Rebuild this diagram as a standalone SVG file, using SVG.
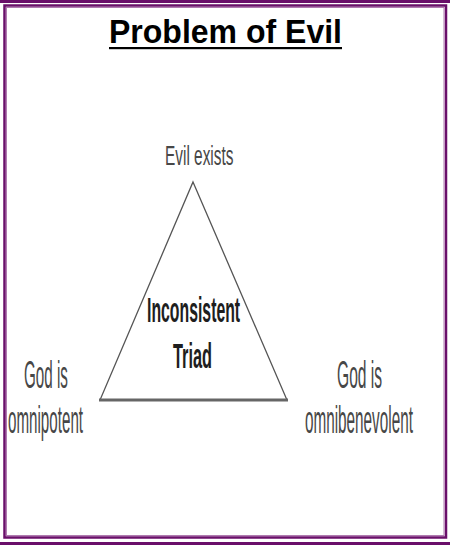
<svg xmlns="http://www.w3.org/2000/svg" width="450" height="545" viewBox="0 0 450 545">
<style>
.frame{fill:none;stroke:#6a0f6a;stroke-width:2.5}
.frame2{fill:none;stroke:#b07ab0;stroke-width:1}
.bar{fill:#6a0f6a}
.title{font-family:"Liberation Sans",Arial,sans-serif;font-weight:bold;font-size:33px;fill:#000}
.lbl{font-family:"Liberation Sans",Arial,sans-serif;fill:#474747}
.bold{font-family:"Liberation Sans",Arial,sans-serif;font-weight:bold;fill:#1e1e1e}
.tri{fill:none;stroke:#555;stroke-width:1.3;stroke-linejoin:miter}
</style>
<rect width="450" height="545" fill="#fff"/>
<g id="frame">
<rect class="bar" x="0" y="0" width="450" height="3"/>
<rect class="bar" x="0" y="542" width="450" height="3"/>
<rect class="frame" x="4.5" y="5.5" width="441.5" height="532"/>
<rect class="frame2" x="6.5" y="7.5" width="437.5" height="528"/>
</g>
<g id="title">
<text class="title" x="109" y="43" textLength="233" lengthAdjust="spacingAndGlyphs">Problem of Evil</text>
<rect x="109" y="47" width="233" height="2.2" fill="#000"/>
</g>
<g id="connectors">
<path class="tri" d="M193,182 L287,400 L100,400 Z"/>
<line x1="99" y1="400" x2="288" y2="400" stroke="#666" stroke-width="3"/>
</g>
<g id="node-evil">
<text class="lbl" font-size="28" transform="translate(165,165) scale(0.55,1)">Evil exists</text>
</g>
<g id="node-center">
<text class="bold" font-size="35" transform="translate(147,322) scale(0.452,1)">Inconsistent</text>
<text class="bold" font-size="35" transform="translate(173,368) scale(0.467,1)">Triad</text>
</g>
<g id="node-omnipotent">
<text class="lbl" font-size="39" transform="translate(24,388) scale(0.39,1)">God is</text>
<text class="lbl" font-size="39" transform="translate(8,433) scale(0.389,1)">omnipotent</text>
</g>
<g id="node-omnibenevolent">
<text class="lbl" font-size="39" transform="translate(337,388) scale(0.40,1)">God is</text>
<text class="lbl" font-size="39" transform="translate(305,433) scale(0.392,1)">omnibenevolent</text>
</g>
</svg>
